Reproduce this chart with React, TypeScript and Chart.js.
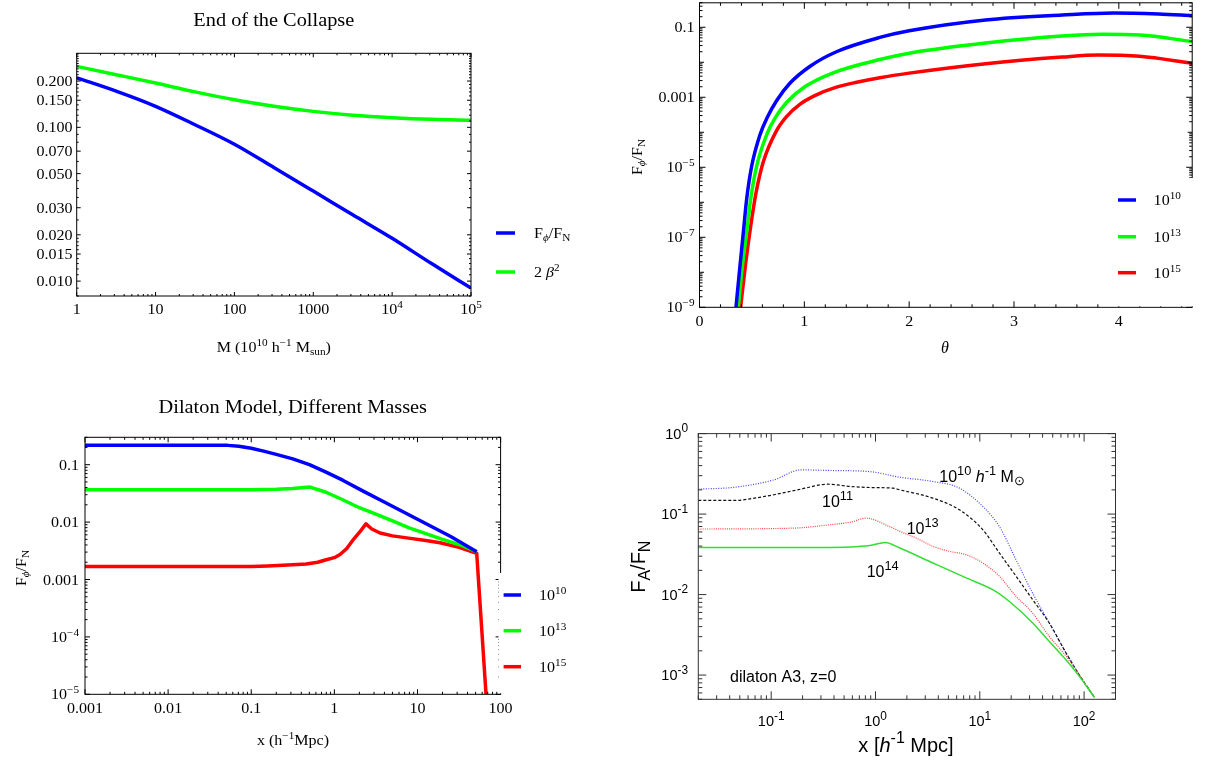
import React, { useEffect, useRef } from 'react';
import { Chart, registerables } from 'chart.js';
Chart.register(...registerables);

const SERIF = '"Liberation Serif", "Times New Roman", serif';
const SANS = '"Liberation Sans", Arial, Helvetica, sans-serif';

// ---------- Panel 1: End of the Collapse ----------
const p1Mass = [1, 3.16, 10, 31.6, 100, 316, 1000, 3162, 10000, 31623, 100000];
const p1ForceRatio = [0.21, 0.172, 0.137, 0.104, 0.0776, 0.0548, 0.0385, 0.027, 0.019, 0.013, 0.009];
const p1TwoBeta2 = [0.249, 0.22, 0.194, 0.17, 0.151, 0.137, 0.127, 0.12, 0.1156, 0.1127, 0.1112];
const p1XTicks = [1, 10, 100, 1000, 10000, 100000];
const p1XTickLabels = ['1', '10', '100', '1000', '10^{4}', '10^{5}'];
const p1YTicks = [0.2, 0.15, 0.1, 0.07, 0.05, 0.03, 0.02, 0.015, 0.01];
const p1YTickLabels = ['0.200', '0.150', '0.100', '0.070', '0.050', '0.030', '0.020', '0.015', '0.010'];
const p1YMinor = [0.008, 0.009, 0.011, 0.012, 0.013, 0.014, 0.016, 0.017, 0.018, 0.019, 0.025, 0.035, 0.04, 0.045,
  0.06, 0.08, 0.09, 0.11, 0.12, 0.13, 0.14, 0.16, 0.17, 0.18, 0.19, 0.21, 0.22, 0.23, 0.24, 0.25, 0.26, 0.27, 0.28, 0.29, 0.3];

// ---------- Panel 2: F_phi/F_N vs theta ----------
const p2Theta10 = [0.348, 0.38, 0.417, 0.449, 0.497, 0.576, 0.646, 0.735, 0.862, 1.052, 1.306, 1.72, 2.0, 2.73, 3.46, 3.95, 4.38, 4.7];
const p2Ratio10 = [1e-9, 1e-8, 1.26e-7, 1.17e-6, 1.05e-5, 8.3e-5, 2.63e-4, 7.94e-4, 2.51e-3, 7.59e-3, 0.02, 0.0513, 0.0794, 0.162, 0.224, 0.257, 0.24, 0.215];
const p2Theta13 = [0.37, 0.41, 0.449, 0.487, 0.544, 0.646, 0.719, 0.83, 1.005, 1.275, 1.72, 2.0, 2.73, 3.46, 3.84, 4.2, 4.7];
const p2Ratio13 = [1e-9, 1.58e-8, 1.3e-7, 1.17e-6, 1.05e-5, 9.3e-5, 2.51e-4, 7.08e-4, 2.0e-3, 5.01e-3, 0.012, 0.0182, 0.0355, 0.0562, 0.0631, 0.0603, 0.0389];
const p2Theta15 = [0.392, 0.44, 0.49, 0.538, 0.608, 0.735, 0.83, 0.957, 1.1, 1.3, 1.5, 1.72, 2.0, 2.73, 3.46, 3.8, 4.2, 4.7];
const p2Ratio15 = [1e-9, 1.78e-8, 2.24e-7, 1.78e-6, 1.41e-5, 1.12e-4, 2.82e-4, 6.31e-4, 1.12e-3, 1.91e-3, 2.69e-3, 3.63e-3, 4.9e-3, 9.12e-3, 0.0141, 0.0162, 0.0148, 0.00933];
const p2XTicks = [0, 1, 2, 3, 4];
const p2XTickLabels = ['0', '1', '2', '3', '4'];
const p2YTicks = [0.1, 0.001, 1e-5, 1e-7, 1e-9];
const p2YTickLabels = ['0.1', '0.001', '10^{−5}', '10^{−7}', '10^{−9}'];
const p2YMid = [0.01, 1e-4, 1e-6, 1e-8];

// ---------- Panel 3: Dilaton Model, Different Masses ----------
const p3X10 = [0.001, 0.0521, 0.0708, 0.1, 0.141, 0.2, 0.316, 0.501, 0.794, 1.26, 2.25, 3.98, 10, 25.1, 51.6];
const p3Y10 = [0.217, 0.217, 0.209, 0.193, 0.172, 0.151, 0.126, 0.1, 0.0741, 0.0537, 0.0343, 0.0224, 0.0112, 0.00562, 0.00305];
const p3X13 = [0.001, 0.1, 0.2, 0.316, 0.51, 0.794, 1.26, 2.0, 3.16, 5.01, 7.94, 12.6, 20, 31.6, 51.6];
const p3Y13 = [0.0366, 0.0366, 0.0372, 0.0385, 0.0407, 0.0331, 0.0245, 0.0178, 0.0138, 0.0105, 0.00794, 0.00631, 0.00501, 0.00407, 0.00305];
const p3X15 = [0.001, 0.1, 0.158, 0.316, 0.459, 0.631, 0.778, 1.0, 1.17, 1.41, 1.7, 2.0, 2.4, 2.82, 3.55, 5.01, 7.43, 12.6, 18.7, 31.6, 51.6, 66.8];
const p3Y15 = [0.00169, 0.00169, 0.00172, 0.0018, 0.00186, 0.002, 0.00219, 0.0024, 0.00272, 0.00347, 0.00501, 0.0066, 0.00933, 0.00759, 0.00646, 0.00575, 0.00531, 0.00479, 0.00437, 0.00363, 0.00285, 1e-5];
const p3XTicks = [0.001, 0.01, 0.1, 1, 10, 100];
const p3XTickLabels = ['0.001', '0.01', '0.1', '1', '10', '100'];
const p3YTicks = [0.1, 0.01, 0.001, 1e-4, 1e-5];
const p3YTickLabels = ['0.1', '0.01', '0.001', '10^{−4}', '10^{−5}'];

// ---------- Panel 4: dilaton A3, z=0 ----------
const p4X10 = [0.02, 0.0453, 0.106, 0.192, 0.378, 0.883, 1.71, 3.55, 6.38, 10.7, 15.4, 22.2, 32.0, 46.2, 66.7, 89.3, 126];
const p4Y10 = [0.204, 0.216, 0.266, 0.354, 0.348, 0.337, 0.287, 0.254, 0.21, 0.124, 0.0701, 0.0272, 0.0105, 0.00447, 0.00191, 0.00102, 0.000525];
const p4X11 = [0.02, 0.0453, 0.0692, 0.106, 0.192, 0.347, 0.589, 0.883, 1.47, 1.71, 3.55, 6.38, 10.7, 15.4, 22.2, 32.0, 46.2, 66.7, 89.3, 126];
const p4Y11 = [0.148, 0.148, 0.158, 0.174, 0.204, 0.235, 0.22, 0.214, 0.21, 0.2, 0.158, 0.113, 0.0638, 0.0329, 0.017, 0.0087, 0.00447, 0.00191, 0.00102, 0.000525];
const p4X13 = [0.02, 0.166, 0.38, 0.578, 0.813, 1.35, 1.71, 2.45, 3.55, 5.13, 7.4, 10.7, 15.4, 22.2, 32.0, 46.2, 66.7, 89.3, 126];
const p4Y13 = [0.0652, 0.067, 0.0741, 0.0794, 0.0891, 0.0703, 0.061, 0.0505, 0.0398, 0.0344, 0.0313, 0.0247, 0.0169, 0.00955, 0.00593, 0.00304, 0.00174, 0.00102, 0.000525];
const p4X14 = [0.02, 0.316, 0.883, 1.24, 1.71, 3.55, 7.4, 13.3, 19.1, 32.0, 46.2, 66.7, 89.3, 126];
const p4Y14 = [0.0385, 0.0385, 0.0407, 0.0445, 0.0379, 0.0247, 0.0161, 0.0115, 0.00826, 0.00447, 0.00263, 0.00156, 0.000977, 0.000525];
const p4XTicks = [0.1, 1, 10, 100];
const p4XTickLabels = ['10^{-1}', '10^{0}', '10^{1}', '10^{2}'];
const p4YTicks = [1, 0.1, 0.01, 0.001];
const p4YTickLabels = ['10^{0}', '10^{-1}', '10^{-2}', '10^{-3}'];

// ---------- helpers ----------
function logMinors(min: number, max: number): number[] {
  const out: number[] = [];
  for (let n = -12; n <= 8; n++) {
    for (let k = 2; k <= 9; k++) {
      const v = k * Math.pow(10, n);
      if (v >= min * 0.999 && v <= max * 1.001) out.push(v);
    }
  }
  return out;
}

type Seg = { t: string; sup: boolean; sub: boolean; it: boolean };
function parseRich(s: string): Seg[] {
  const segs: Seg[] = [];
  let it = false;
  let buf = '';
  const push = (t: string, mode: string) => {
    if (t) segs.push({ t, sup: mode === 'sup', sub: mode === 'sub', it });
  };
  for (let i = 0; i < s.length; i++) {
    const c = s[i];
    if ((c === '^' || c === '_') && s[i + 1] === '{') {
      push(buf, '');
      buf = '';
      const j = s.indexOf('}', i + 2);
      const inner = s.slice(i + 2, j);
      const mode = c === '^' ? 'sup' : 'sub';
      let ib = '';
      for (const ch of inner) {
        if (ch === '~') { push(ib, mode); ib = ''; it = !it; } else ib += ch;
      }
      push(ib, mode);
      i = j;
      continue;
    }
    if (c === '~') { push(buf, ''); buf = ''; it = !it; continue; }
    buf += c;
  }
  push(buf, '');
  return segs;
}

interface TextOpts {
  size: number; family: string; align?: 'left' | 'center' | 'right';
  baseline?: 'middle' | 'alphabetic'; color?: string; rotate?: boolean; stretch?: number; supScale?: number;
}
function drawRich(ctx: CanvasRenderingContext2D, s: string, x: number, y: number, o: TextOpts) {
  const segs = parseRich(s);
  const ss = o.supScale || 0.7;
  const fontOf = (g: Seg) => `${g.it ? 'italic ' : ''}${(g.sup || g.sub) ? o.size * ss : o.size}px ${o.family}`;
  let total = 0;
  const widths = segs.map((g) => { ctx.font = fontOf(g); const w = ctx.measureText(g.t).width; total += w; return w; });
  ctx.save();
  ctx.translate(x, y);
  if (o.rotate) ctx.rotate(-Math.PI / 2);
  if (o.stretch) ctx.scale(o.stretch, 1);
  const align = o.align || 'left';
  let cx = align === 'center' ? -total / 2 : align === 'right' ? -total : 0;
  const base = o.baseline === 'alphabetic' ? 0 : o.size * 0.34;
  ctx.fillStyle = o.color || '#000';
  ctx.textAlign = 'left';
  ctx.textBaseline = 'alphabetic';
  segs.forEach((g, i) => {
    ctx.font = fontOf(g);
    const dy = g.sup ? -o.size * 0.42 : g.sub ? o.size * 0.22 : 0;
    ctx.fillText(g.t, cx, base + dy);
    cx += widths[i];
  });
  ctx.restore();
}

interface Series { x: number[]; y: number[]; color: string; width: number; dash?: number[] }
interface TextItem { text: string; x: number; y: number; o: TextOpts }
interface Panel {
  left: number; top: number; width: number; height: number;
  area: { l: number; t: number; r: number; b: number };
  xType: 'linear' | 'logarithmic'; xMin: number; xMax: number; yMin: number; yMax: number;
  smooth: boolean;
  series: Series[];
  xMajor: number[]; xLabels: string[]; xMinor: number[];
  yMajor: number[]; yLabels: string[]; yMinor: number[]; yMid?: number[];
  tick: TextOpts; majorLen: number; minorLen: number; frameColor: string;
  xLabelY: number; yLabelX: number;
  texts: TextItem[];
  legend?: { items: { color: string; label: string }[]; x1: number; x2: number; tx: number; ys: number[]; o: TextOpts };
  hide?: { x: number; y: number };
}

const MT: TextOpts = { size: 15, family: SERIF, stretch: 1.07 };
const GT: TextOpts = { size: 14.5, family: SANS, supScale: 0.82 };
const GA: TextOpts = { size: 16, family: SANS, baseline: 'alphabetic', supScale: 0.8 };

const PANELS: Panel[] = [
  {
    left: 0, top: 0, width: 600, height: 370,
    area: { l: 76.7, t: 53.3, r: 471, b: 296 },
    xType: 'logarithmic', xMin: 1, xMax: 100000, yMin: 0.008, yMax: 0.303, smooth: true,
    series: [
      { x: p1Mass, y: p1ForceRatio, color: '#0000ff', width: 3.5 },
      { x: p1Mass, y: p1TwoBeta2, color: '#00ff00', width: 3.5 },
    ],
    xMajor: p1XTicks, xLabels: p1XTickLabels, xMinor: logMinors(1, 100000),
    yMajor: p1YTicks, yLabels: p1YTickLabels, yMinor: p1YMinor,
    tick: { ...MT, align: 'center' }, majorLen: 4, minorLen: 2, frameColor: '#000',
    xLabelY: 309, yLabelX: 72.5,
    texts: [
      { text: 'End of the Collapse', x: 273.8, y: 20, o: { size: 19, family: SERIF, align: 'center', stretch: 1.07 } },
      { text: 'M (10^{10} h^{−1} M_{sun})', x: 273.8, y: 347, o: { ...MT, align: 'center' } },
    ],
    legend: {
      items: [{ color: '#0000ff', label: 'F_{~ϕ~}/F_{N}' }, { color: '#00ff00', label: '2 ~β~^{2}' }],
      x1: 496, x2: 515, tx: 534, ys: [233, 272], o: { ...MT },
    },
  },
  {
    left: 600, top: 0, width: 605, height: 370,
    area: { l: 99.5, t: 2.8, r: 592.2, b: 307.3 },
    xType: 'linear', xMin: 0, xMax: 4.7, yMin: 1e-9, yMax: 0.5, smooth: true,
    series: [
      { x: p2Theta10, y: p2Ratio10, color: '#0000ff', width: 3.5 },
      { x: p2Theta13, y: p2Ratio13, color: '#00ff00', width: 3.5 },
      { x: p2Theta15, y: p2Ratio15, color: '#ff0000', width: 3.5 },
    ],
    xMajor: p2XTicks, xLabels: p2XTickLabels,
    xMinor: [0.2, 0.4, 0.6, 0.8, 1.2, 1.4, 1.6, 1.8, 2.2, 2.4, 2.6, 2.8, 3.2, 3.4, 3.6, 3.8, 4.2, 4.4, 4.6],
    yMajor: p2YTicks, yLabels: p2YTickLabels, yMinor: logMinors(1e-9, 0.5), yMid: p2YMid,
    tick: { ...MT, align: 'center' }, majorLen: 6, minorLen: 3, frameColor: '#000',
    xLabelY: 320.7, yLabelX: 94.5,
    texts: [
      { text: 'F_{~ϕ~}/F_{N}', x: 36.6, y: 157, o: { ...MT, align: 'center', rotate: true } },
      { text: '~θ~', x: 345, y: 348, o: { size: 16, family: SERIF, align: 'center' } },
    ],
    legend: {
      items: [{ color: '#0000ff', label: '10^{10}' }, { color: '#00ff00', label: '10^{13}' }, { color: '#ff0000', label: '10^{15}' }],
      x1: 518, x2: 536, tx: 553.6, ys: [200, 236.7, 272.7], o: { ...MT },
    },
    hide: { x: 500, y: 178 },
  },
  {
    left: 0, top: 380, width: 600, height: 382,
    area: { l: 85, t: 57.3, r: 500.6, b: 314.3 },
    xType: 'logarithmic', xMin: 0.001, xMax: 100, yMin: 1e-5, yMax: 0.3, smooth: false,
    series: [
      { x: p3X10, y: p3Y10, color: '#0000ff', width: 3.5 },
      { x: p3X13, y: p3Y13, color: '#00ff00', width: 3.5 },
      { x: p3X15, y: p3Y15, color: '#ff0000', width: 3.5 },
    ],
    xMajor: p3XTicks, xLabels: p3XTickLabels, xMinor: logMinors(0.001, 100),
    yMajor: p3YTicks, yLabels: p3YTickLabels, yMinor: logMinors(1e-5, 0.3),
    tick: { ...MT, align: 'center' }, majorLen: 5, minorLen: 2.5, frameColor: '#000',
    xLabelY: 328.3, yLabelX: 79,
    texts: [
      { text: 'Dilaton Model, Different Masses', x: 292.8, y: 27, o: { size: 19, family: SERIF, align: 'center', stretch: 1.07 } },
      { text: 'x (h^{−1}Mpc)', x: 293, y: 360, o: { ...MT, align: 'center' } },
      { text: 'F_{~ϕ~}/F_{N}', x: 21, y: 188, o: { ...MT, align: 'center', rotate: true } },
    ],
    legend: {
      items: [{ color: '#0000ff', label: '10^{10}' }, { color: '#00ff00', label: '10^{13}' }, { color: '#ff0000', label: '10^{15}' }],
      x1: 503.6, x2: 521, tx: 539, ys: [215, 250.7, 286.7], o: { ...MT },
    },
    hide: { x: 498.5, y: 193 },
  },
  {
    left: 600, top: 380, width: 605, height: 382,
    area: { l: 98.3, t: 53.6, r: 515.5, b: 319.3 },
    xType: 'logarithmic', xMin: 0.02, xMax: 200, yMin: 0.0005, yMax: 1, smooth: true,
    series: [
      { x: p4X14, y: p4Y14, color: '#33dd33', width: 1.5 },
      { x: p4X13, y: p4Y13, color: '#ff4040', width: 1.2, dash: [1, 1.2] },
      { x: p4X11, y: p4Y11, color: '#111111', width: 1.2, dash: [3, 2] },
      { x: p4X10, y: p4Y10, color: '#4040ff', width: 1.2, dash: [1, 1.5] },
    ],
    xMajor: p4XTicks, xLabels: p4XTickLabels, xMinor: logMinors(0.02, 200),
    yMajor: p4YTicks, yLabels: p4YTickLabels, yMinor: logMinors(0.0005, 1),
    tick: { ...GT, align: 'center' }, majorLen: 8, minorLen: 4, frameColor: '#333',
    xLabelY: 341, yLabelX: 88,
    texts: [
      { text: 'F_{A}/F_{N}', x: 38.6, y: 186.7, o: { size: 20, family: SANS, align: 'center', rotate: true, supScale: 0.8 } },
      { text: 'x [~h~^{-1} Mpc]', x: 306, y: 365, o: { size: 20, family: SANS, align: 'center', supScale: 0.8 } },
      { text: '10^{10} ~h~^{-1} M_{⊙}', x: 339.3, y: 101.7, o: GA },
      { text: '10^{11}', x: 222, y: 126.7, o: GA },
      { text: '10^{13}', x: 306.7, y: 154, o: GA },
      { text: '10^{14}', x: 266.7, y: 197, o: GA },
      { text: 'dilaton A3, z=0', x: 130, y: 301.7, o: GA },
    ],
  },
];

function makePlugin(p: Panel) {
  return {
    id: 'decor',
    afterDatasetsDraw(chart: any) {
      const ctx: CanvasRenderingContext2D = chart.ctx;
      const xs = chart.scales.x;
      const ys = chart.scales.y;
      const { left, right, top, bottom } = chart.chartArea;
      ctx.save();
      ctx.strokeStyle = p.frameColor;
      ctx.lineWidth = 1;
      ctx.setLineDash([]);
      ctx.strokeRect(left, top, right - left, bottom - top);
      const xt = (v: number, len: number) => {
        const px = xs.getPixelForValue(v);
        if (px < left - 0.5 || px > right + 0.5) return;
        ctx.beginPath();
        ctx.moveTo(px, bottom); ctx.lineTo(px, bottom - len);
        ctx.moveTo(px, top); ctx.lineTo(px, top + len);
        ctx.stroke();
      };
      const yt = (v: number, len: number) => {
        const py = ys.getPixelForValue(v);
        if (py < top - 0.5 || py > bottom + 0.5) return;
        ctx.beginPath();
        ctx.moveTo(left, py); ctx.lineTo(left + len, py);
        ctx.moveTo(right, py); ctx.lineTo(right - len, py);
        ctx.stroke();
      };
      p.xMinor.forEach((v) => xt(v, p.minorLen));
      p.xMajor.forEach((v) => xt(v, p.majorLen));
      p.yMinor.forEach((v) => yt(v, p.minorLen));
      (p.yMid || []).forEach((v) => yt(v, (p.majorLen + p.minorLen) / 2));
      p.yMajor.forEach((v) => yt(v, p.majorLen));
      p.xMajor.forEach((v, i) => {
        drawRich(ctx, p.xLabels[i], xs.getPixelForValue(v), p.xLabelY, { ...p.tick, align: 'center' });
      });
      p.yMajor.forEach((v, i) => {
        drawRich(ctx, p.yLabels[i], p.yLabelX, ys.getPixelForValue(v), { ...p.tick, align: 'right' });
      });
      if (p.hide) {
        ctx.fillStyle = '#fff';
        ctx.fillRect(p.hide.x, p.hide.y, p.width - p.hide.x, bottom - 1 - p.hide.y);
      }
      if (p.legend) {
        const lg = p.legend;
        lg.items.forEach((it, i) => {
          ctx.strokeStyle = it.color;
          ctx.lineWidth = 3.5;
          ctx.beginPath();
          ctx.moveTo(lg.x1, lg.ys[i]);
          ctx.lineTo(lg.x2, lg.ys[i]);
          ctx.stroke();
          drawRich(ctx, it.label, lg.tx, lg.ys[i], lg.o);
        });
      }
      p.texts.forEach((t) => drawRich(ctx, t.text, t.x, t.y, t.o));
      ctx.restore();
    },
  };
}

function PanelChart({ p }: { p: Panel }) {
  const ref = useRef<HTMLCanvasElement>(null);
  useEffect(() => {
    if (!ref.current) return;
    const hidden = { display: false };
    const chart = new Chart(ref.current, {
      type: 'line',
      data: {
        datasets: p.series.map((s) => ({
          data: s.x.map((x, i) => ({ x, y: s.y[i] })),
          borderColor: s.color,
          backgroundColor: s.color,
          borderWidth: s.width,
          borderDash: s.dash || [],
          borderJoinStyle: 'round',
          borderCapStyle: 'butt',
          pointRadius: 0,
          fill: false,
          tension: 0,
          cubicInterpolationMode: p.smooth ? 'monotone' : 'default',
          clip: 0,
        })),
      } as any,
      options: {
        responsive: false,
        animation: false,
        events: [],
        layout: { padding: { top: p.area.t, right: p.width - p.area.r, left: 0, bottom: 0 } },
        plugins: { legend: hidden, tooltip: { enabled: false }, title: hidden },
        scales: {
          x: {
            type: p.xType, min: p.xMin, max: p.xMax,
            ticks: hidden, grid: hidden, border: hidden,
            afterFit: (s: any) => { s.height = p.height - p.area.b; },
          },
          y: {
            type: 'logarithmic', min: p.yMin, max: p.yMax,
            ticks: hidden, grid: hidden, border: hidden,
            afterFit: (s: any) => { s.width = p.area.l; },
          },
        },
      } as any,
      plugins: [makePlugin(p)],
    });
    return () => chart.destroy();
  }, [p]);
  return (
    <canvas
      ref={ref}
      width={p.width}
      height={p.height}
      style={{ position: 'absolute', left: p.left, top: p.top, width: p.width, height: p.height }}
    />
  );
}

export default function App() {
  return (
    <div style={{ position: 'absolute', left: 0, top: 0, width: 1205, height: 762, background: '#fff', overflow: 'hidden' }}>
      {PANELS.map((p, i) => (
        <PanelChart key={i} p={p} />
      ))}
    </div>
  );
}
